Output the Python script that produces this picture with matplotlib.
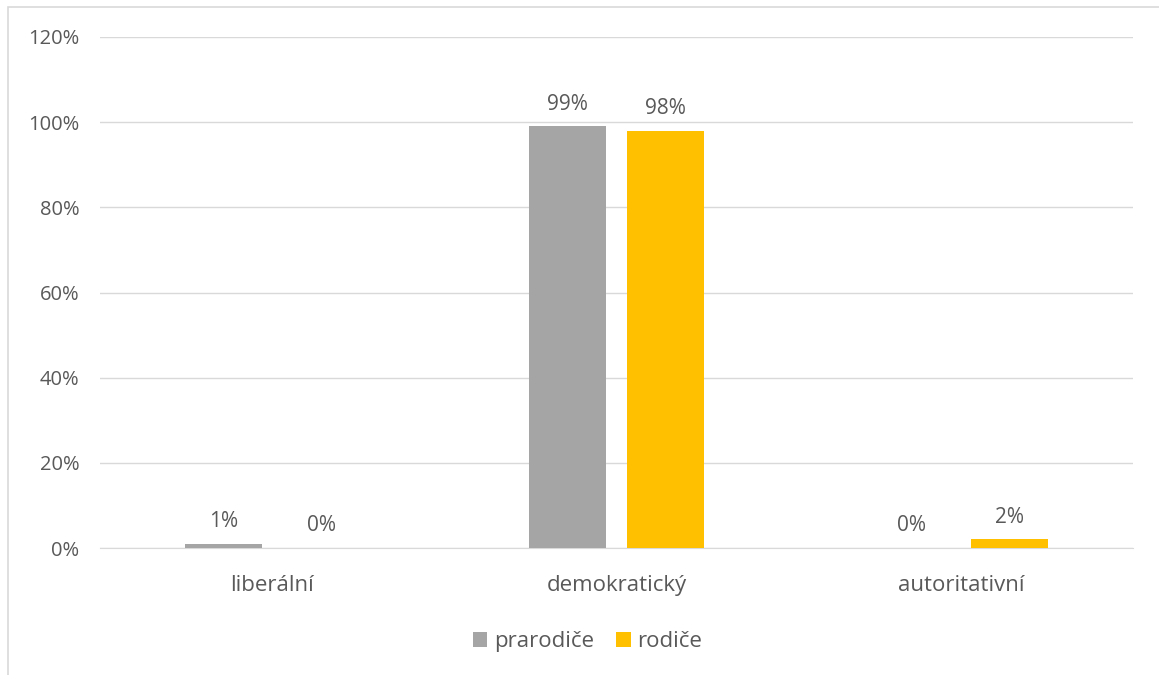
import matplotlib.pyplot as plt
import numpy as np
from matplotlib.patches import Rectangle

categories = ["liberální", "demokratický", "autoritativní"]
prarodice = [1, 99, 0]
rodice = [0, 98, 2]
yticks = [0, 20, 40, 60, 80, 100, 120]

plt.rcParams['font.family'] = ['Open Sans', 'DejaVu Sans']
txt = "#595959"

fig = plt.figure(figsize=(11.59, 6.75), dpi=100)
ax = fig.add_axes([100/1159, 1-548/675, 1033/1159, 511/675])

x = np.arange(len(categories))
w = 0.224
off = 0.142
b1 = ax.bar(x - off, prarodice, w, color="#a5a5a5", label="prarodiče", zorder=3)
b2 = ax.bar(x + off, rodice, w, color="#ffc000", label="rodiče", zorder=3)

for bars, vals in ((b1, prarodice), (b2, rodice)):
    for b, v in zip(bars, vals):
        ax.annotate(f"{v}%", (b.get_x() + b.get_width()/2, v), xytext=(0, 8.5),
                    textcoords="offset points", ha="center", va="bottom",
                    fontsize=15, color=txt)

ax.set_xlim(-0.5, 2.5)
ax.set_ylim(0, 120)
ax.set_yticks(yticks)
ax.set_yticklabels([f"{t}%" for t in yticks])
ax.set_xticks(x)
ax.set_xticklabels(categories)
ax.tick_params(axis="both", length=0, labelcolor=txt)
ax.tick_params(axis="y", pad=15, labelsize=14.5)
ax.tick_params(axis="x", pad=19.5, labelsize=16)
ax.grid(axis="y", color="#d9d9d9", linewidth=1, zorder=0)
for s in ["top", "right", "left"]:
    ax.spines[s].set_visible(False)
ax.spines["bottom"].set_color("#d9d9d9")

ax.legend(loc="center", bbox_to_anchor=(0.472, -0.183), ncol=2, frameon=False,
          fontsize=16, labelcolor=txt, handlelength=0.65, handleheight=0.65,
          handletextpad=0.3, columnspacing=1.0)

fig.patches.append(Rectangle((8/1159, -0.1), 1.2, 1 - 7/675 + 0.1, transform=fig.transFigure,
                             fill=False, edgecolor="#d9d9d9", linewidth=1.2))

fig.savefig("out.png", dpi=100)
